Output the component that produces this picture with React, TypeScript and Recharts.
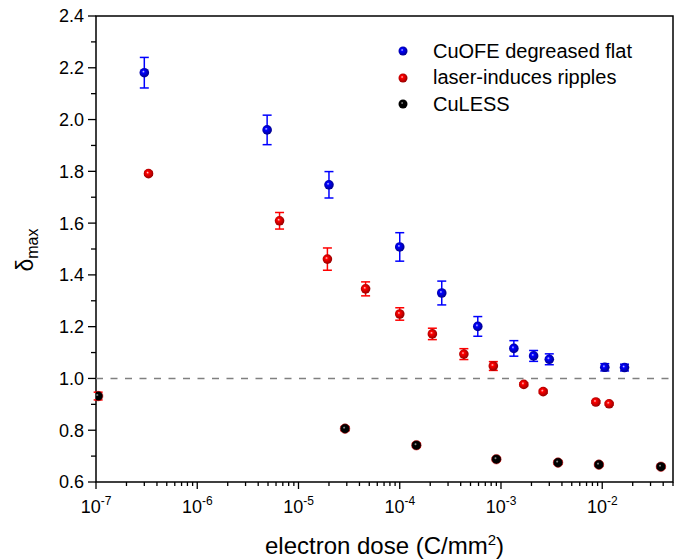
import React from 'react';
import { ScatterChart, Scatter, XAxis, YAxis, ErrorBar, ReferenceLine, ReferenceArea, Legend, Label } from 'recharts';

const FONT = '"Liberation Sans", Arial, sans-serif';

// electron dose (C/mm^2) and delta_max per sample
const blueDose = [3.0e-7, 4.9e-6, 2.0e-5, 1.0e-4, 2.6e-4, 5.9e-4, 1.34e-3, 2.1e-3, 3.0e-3, 1.06e-2, 1.66e-2];
const blueDelta = [2.181, 1.96, 1.748, 1.508, 1.33, 1.201, 1.116, 1.087, 1.074, 1.043, 1.042];
const blueErr = [0.059, 0.057, 0.051, 0.055, 0.046, 0.038, 0.03, 0.021, 0.021, 0.014, 0.013];

const redDose = [3.3e-7, 6.5e-6, 1.93e-5, 4.6e-5, 1.0e-4, 2.1e-4, 4.3e-4, 8.4e-4, 1.68e-3, 2.61e-3, 8.65e-3, 1.17e-2];
const redDelta = [1.791, 1.609, 1.461, 1.346, 1.249, 1.172, 1.094, 1.048, 0.977, 0.949, 0.909, 0.902];
const redErr = [0.006, 0.032, 0.043, 0.027, 0.024, 0.022, 0.021, 0.017, 0.006, 0.006, 0.005, 0.005];

const blackDose = [1.05e-7, 2.88e-5, 1.46e-4, 9.0e-4, 3.66e-3, 9.27e-3, 3.8e-2];
const blackDelta = [0.932, 0.806, 0.742, 0.688, 0.675, 0.667, 0.659];
const blackErr = [0.015, 0.008, 0.008, 0.006, 0.006, 0.005, 0.005];

const seriesNames = ['CuOFE degreased flat', 'laser-induces ripples', 'CuLESS'];
const seriesColors = ['#0000ff', '#ff0000', '#000000'];
const seriesDark = ['#000080', '#8a0000', '#000000'];
const seriesLight = ['#d0d0ff', '#ffd0d0', '#bbbbbb'];

const xMajor = [1e-7, 1e-6, 1e-5, 1e-4, 1e-3, 1e-2];
const xMinorMult = [2, 3, 4, 5, 6, 7, 8, 9];
const yTicks = [0.6, 0.7, 0.8, 0.9, 1.0, 1.1, 1.2, 1.3, 1.4, 1.5, 1.6, 1.7, 1.8, 1.9, 2.0, 2.1, 2.2, 2.3, 2.4];

const X_MIN = 1e-7;
const X_MAX = 0.05;
const Y_MIN = 0.6;
const Y_MAX = 2.4;

const xTicks: number[] = [];
xMajor.forEach((m) => {
  xTicks.push(m);
  xMinorMult.forEach((k) => {
    const v = m * k;
    if (v <= X_MAX * 1.0001) xTicks.push(v);
  });
});

const toRows = (dose: number[], delta: number[], err: number[]) =>
  dose.map((d, i) => ({ dose: d, delta: delta[i], err: err[i] }));

const blueData = toRows(blueDose, blueDelta, blueErr);
const redData = toRows(redDose, redDelta, redErr);
const blackData = toRows(blackDose, blackDelta, blackErr);

const makeBall = (s: number) => (props: any) => {
  const { cx, cy, index } = props;
  const id = `ball-${s}-${index}`;
  return (
    <g>
      <defs>
        <radialGradient id={id} cx="45%" cy="45%" r="60%" fx="40%" fy="38%">
          <stop offset="0%" stopColor={seriesLight[s]} />
          <stop offset="25%" stopColor={seriesColors[s]} />
          <stop offset="100%" stopColor={seriesDark[s]} />
        </radialGradient>
      </defs>
      <circle cx={cx} cy={cy} r={4.8} fill={`url(#${id})`} stroke={s === 2 ? '#cc0000' : 'none'} strokeWidth={0.5} />
    </g>
  );
};

const XTick = (props: any) => {
  const { x, y, payload } = props;
  const lg = Math.log10(payload.value);
  const e = Math.round(lg);
  const major = Math.abs(lg - e) < 1e-6;
  return (
    <g>
      <line x1={x} y1={y} x2={x} y2={y + (major ? 7 : 4)} stroke="#000" strokeWidth={1.3} />
      {major && (
        <text x={x} y={y + 31} textAnchor="middle" fontSize={18} fontFamily={FONT} fill="#000">
          10<tspan dy={-8} fontSize={12}>{String(e)}</tspan>
        </text>
      )}
    </g>
  );
};

const YTick = (props: any) => {
  const { x, y, payload } = props;
  const v = payload.value;
  const major = Math.round(v * 10) % 2 === 0;
  return (
    <g>
      <line x1={x} y1={y} x2={x - (major ? 8 : 5)} y2={y} stroke="#000" strokeWidth={1.3} />
      {major && (
        <text x={x - 12} y={y} dy="0.36em" textAnchor="end" fontSize={18} fontFamily={FONT} fill="#000">
          {v.toFixed(1)}
        </text>
      )}
    </g>
  );
};

const LegendBox = () => (
  <div style={{ fontFamily: FONT, fontSize: 20, color: '#000' }}>
    {seriesNames.map((name, s) => (
      <div key={name} style={{ display: 'flex', alignItems: 'center', height: 26.5 }}>
        <svg width={16} height={16} style={{ marginRight: 22 }}>
          <defs>
            <radialGradient id={`leg-${s}`} cx="45%" cy="45%" r="60%" fx="40%" fy="38%">
              <stop offset="0%" stopColor={seriesLight[s]} />
              <stop offset="25%" stopColor={seriesColors[s]} />
              <stop offset="100%" stopColor={seriesDark[s]} />
            </radialGradient>
          </defs>
          <circle cx={8} cy={8} r={4.5} fill={`url(#leg-${s})`} />
        </svg>
        <span>{name}</span>
      </div>
    ))}
  </div>
);

export default function App() {
  return (
    <div style={{ position: 'absolute', left: 0, top: 0, width: 680, height: 559, background: '#fff' }}>
      <ScatterChart width={680} height={559} margin={{ top: 16, right: 7, bottom: 0, left: 0 }}>
        <XAxis
          dataKey="dose"
          type="number"
          scale="log"
          domain={[X_MIN, X_MAX]}
          allowDataOverflow
          ticks={xTicks}
          interval={0}
          tick={<XTick />}
          tickLine={false}
          tickSize={0}
          tickMargin={0}
          height={77}
          axisLine={false}
        >
          <Label
            content={(p: any) => {
              const vb = p.viewBox;
              return (
                <text x={vb.x + vb.width / 2} y={554} textAnchor="middle" fontSize={24} fontFamily={FONT} fill="#000">
                  electron dose (C/mm<tspan dy={-9} fontSize={15}>2</tspan>
                  <tspan dy={9}>)</tspan>
                </text>
              );
            }}
          />
        </XAxis>
        <YAxis
          dataKey="delta"
          type="number"
          domain={[Y_MIN, Y_MAX]}
          allowDataOverflow
          ticks={yTicks}
          interval={0}
          tick={<YTick />}
          tickLine={false}
          tickSize={0}
          tickMargin={0}
          width={96}
          axisLine={false}
        >
          <Label
            content={() => (
              <text
                x={33}
                y={250}
                transform="rotate(-90 33 250)"
                textAnchor="middle"
                fontSize={23}
                fontFamily={FONT}
                fill="#000"
              >
                δ<tspan dy={5} fontSize={16}>max</tspan>
              </text>
            )}
          />
        </YAxis>
        <ReferenceArea
          x1={X_MIN}
          x2={X_MAX}
          y1={Y_MIN}
          y2={Y_MAX}
          fill="#fff"
          fillOpacity={0}
          stroke="#000"
          strokeWidth={1.5}
          strokeOpacity={1}
        />
        <ReferenceLine y={1} stroke="#808080" strokeWidth={1.6} strokeDasharray="7 7.5" />
        <Legend
          layout="vertical"
          align="center"
          verticalAlign="middle"
          content={<LegendBox />}
          wrapperStyle={{ left: 395, top: 38, width: 280, height: 80 }}
        />
        <Scatter name={seriesNames[0]} data={blueData} fill={seriesColors[0]} shape={makeBall(0)} isAnimationActive={false}>
          <ErrorBar dataKey="err" direction="y" width={4.5} stroke="#0000ff" strokeWidth={1.5} />
        </Scatter>
        <Scatter name={seriesNames[1]} data={redData} fill={seriesColors[1]} shape={makeBall(1)} isAnimationActive={false}>
          <ErrorBar dataKey="err" direction="y" width={4.5} stroke="#ff0000" strokeWidth={1.5} />
        </Scatter>
        <Scatter name={seriesNames[2]} data={blackData} fill={seriesColors[2]} shape={makeBall(2)} isAnimationActive={false}>
          <ErrorBar dataKey="err" direction="y" width={4.5} stroke="#ff0000" strokeWidth={1.5} />
        </Scatter>
      </ScatterChart>
    </div>
  );
}
